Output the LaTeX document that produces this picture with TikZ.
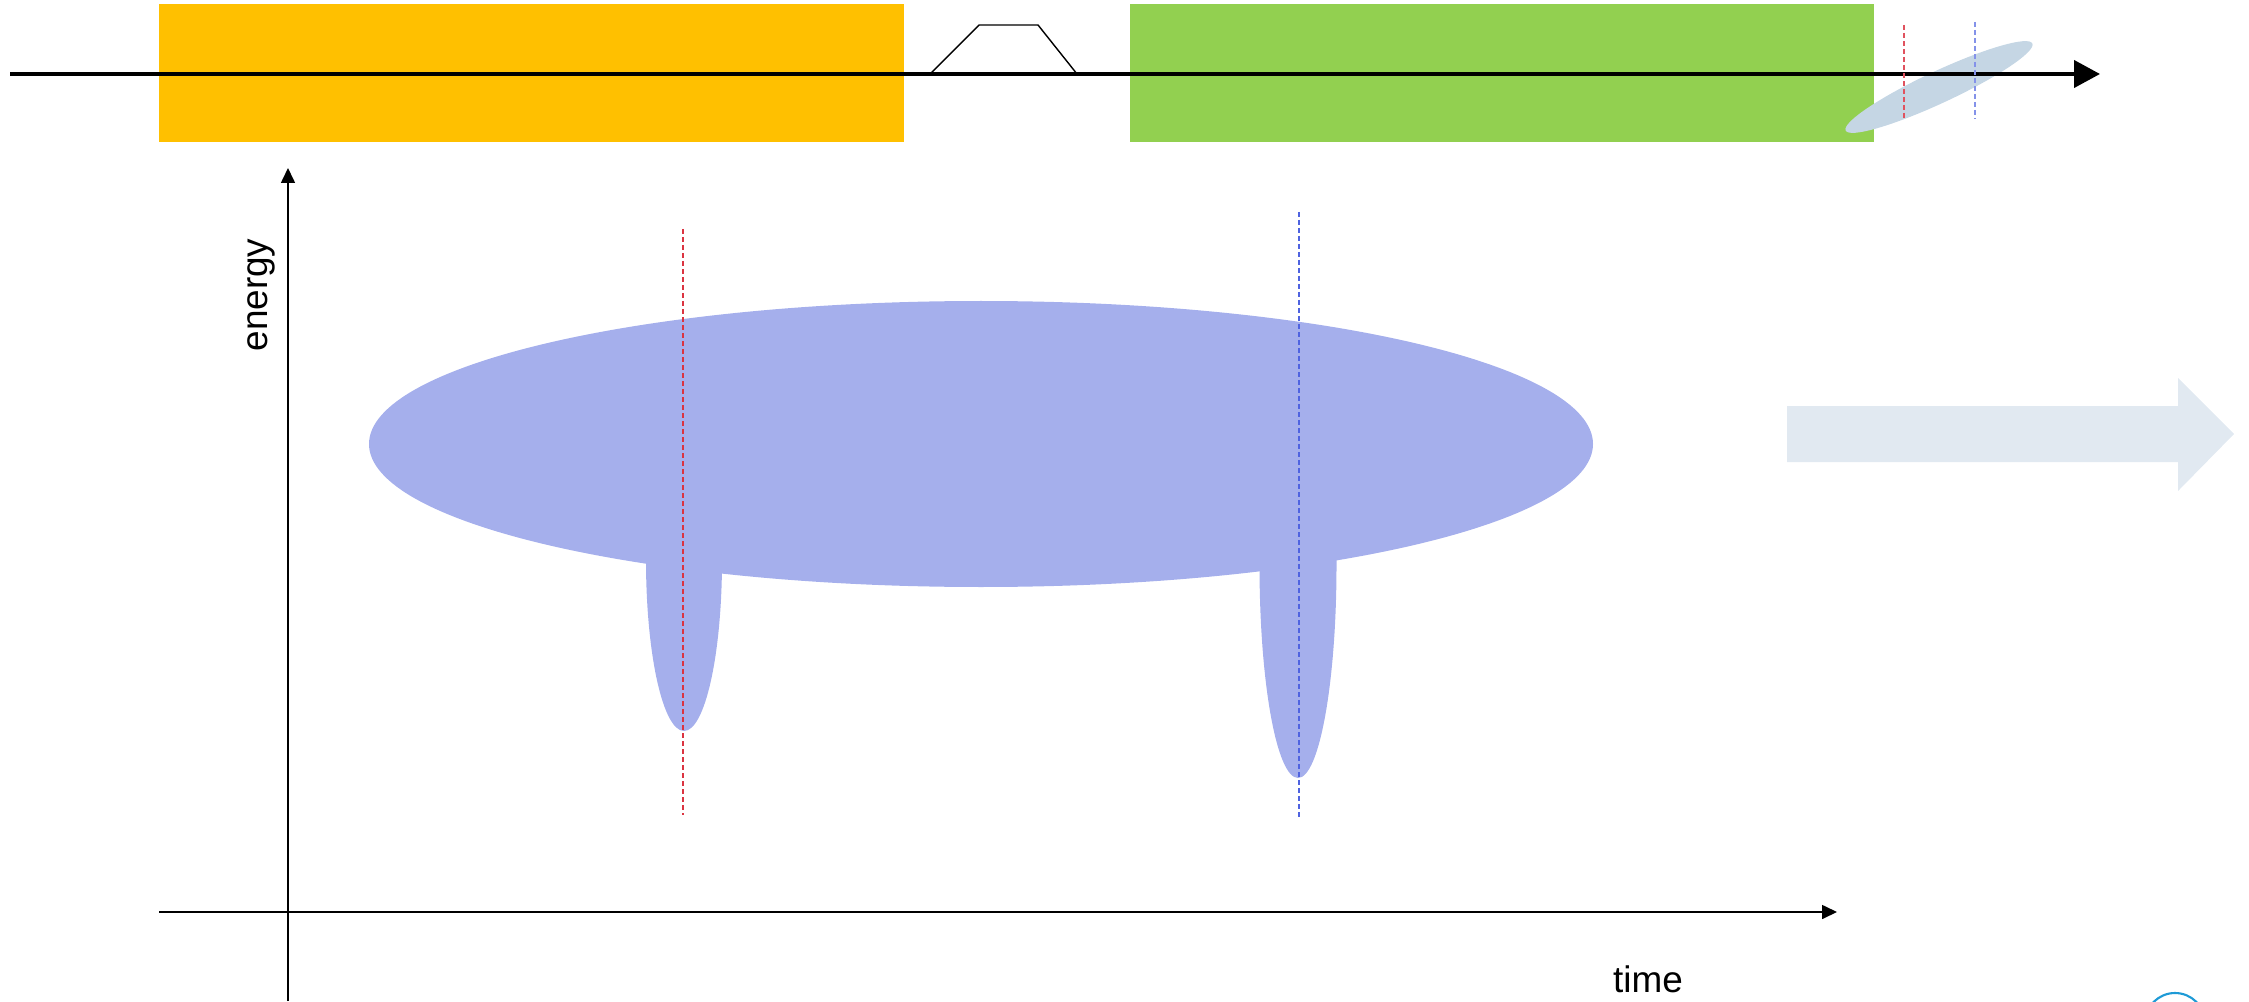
\documentclass[tikz,border=0pt]{standalone}
\usepackage{fontspec}
\setmainfont{Liberation Sans}
\usepackage{tikz}
\usetikzlibrary{arrows.meta,positioning,calc}
\definecolor{amber}{HTML}{FFC000}
\definecolor{leaf}{HTML}{92D050}
\definecolor{lavender}{HTML}{A5AFEC}
\definecolor{steel}{HTML}{C5D6E4}
\definecolor{paleblue}{HTML}{E1E9F1}
\definecolor{cutred}{HTML}{DB3441}
\definecolor{cutblue}{HTML}{4F63E0}
\definecolor{ringblue}{HTML}{1E9AD6}

\begin{document}
\begin{tikzpicture}[
  axisline/.style={line width=0.45pt, -{Triangle[length=0.15cm,width=0.14cm]}},
  redcut/.style={cutred, line width=0.5pt, dash pattern=on 0.05cm off 0.03cm},
  bluecut/.style={cutblue, line width=0.5pt, dash pattern=on 0.05cm off 0.03cm}
]
\useasboundingbox (0,0) rectangle (22.49,10.01);
% top strip: two pulses on the beam line
\fill[amber] (1.59,8.59) rectangle (9.04,9.97);
\fill[leaf] (11.30,8.59) rectangle (18.74,9.97);
\coordinate (tzA) at (9.30,9.27);
\coordinate (tzD) at (10.77,9.27);
\draw[line width=0.4pt] (tzA) -- (9.79,9.76) -- (10.38,9.76) -- (tzD);
\fill[steel, rotate around={25:(19.39,9.14)}] (19.39,9.14) ellipse (1.03 and 0.16);
\coordinate (beamL) at (0.10,9.27);
\coordinate (beamR) at (21.00,9.27);
\draw[line width=1.15pt, -{Triangle[length=0.26cm,width=0.27cm]}] (beamL) -- (beamR);
\draw[redcut, cutred!85!white] (19.04,9.76) -- (19.04,8.80);
\draw[bluecut, cutblue!70!white] (19.75,9.79) -- (19.75,8.82);

% energy-time distribution
\fill[lavender] (9.81,5.57) ellipse (6.12 and 1.43);
\fill[lavender] (6.84,4.41) ellipse (0.38 and 1.71);
\fill[lavender] (12.98,4.36) ellipse (0.385 and 2.13);
\draw[redcut] (6.83,7.72) -- (6.83,1.86);
\draw[bluecut] (12.99,7.89) -- (12.99,1.84);

% axes
\coordinate (eLow) at (2.88,0);
\coordinate (eTop) at (2.88,8.33);
\coordinate (tLeft) at (1.59,0.89);
\coordinate (tRight) at (18.37,0.89);
\draw[axisline] (eLow) -- (eTop);
\draw[axisline] (tLeft) -- (tRight);
\node[rotate=90, anchor=base, inner sep=0pt] (elabel) at (2.67,7.06) {\fontsize{10.5}{12}\selectfont energy};
\node[anchor=base, inner sep=0pt] (tlabel) at (16.48,0.09) {\fontsize{10.5}{12}\selectfont time};

% big arrow to the right
\fill[paleblue] (17.87,5.95) -- (21.78,5.95) -- (21.78,6.23) -- (22.34,5.67)
  -- (21.78,5.10) -- (21.78,5.39) -- (17.87,5.39) -- cycle;

% ring at the corner
\draw[ringblue, line width=0.6pt] (21.75,-0.22) circle (0.30);
\end{tikzpicture}
\end{document}
